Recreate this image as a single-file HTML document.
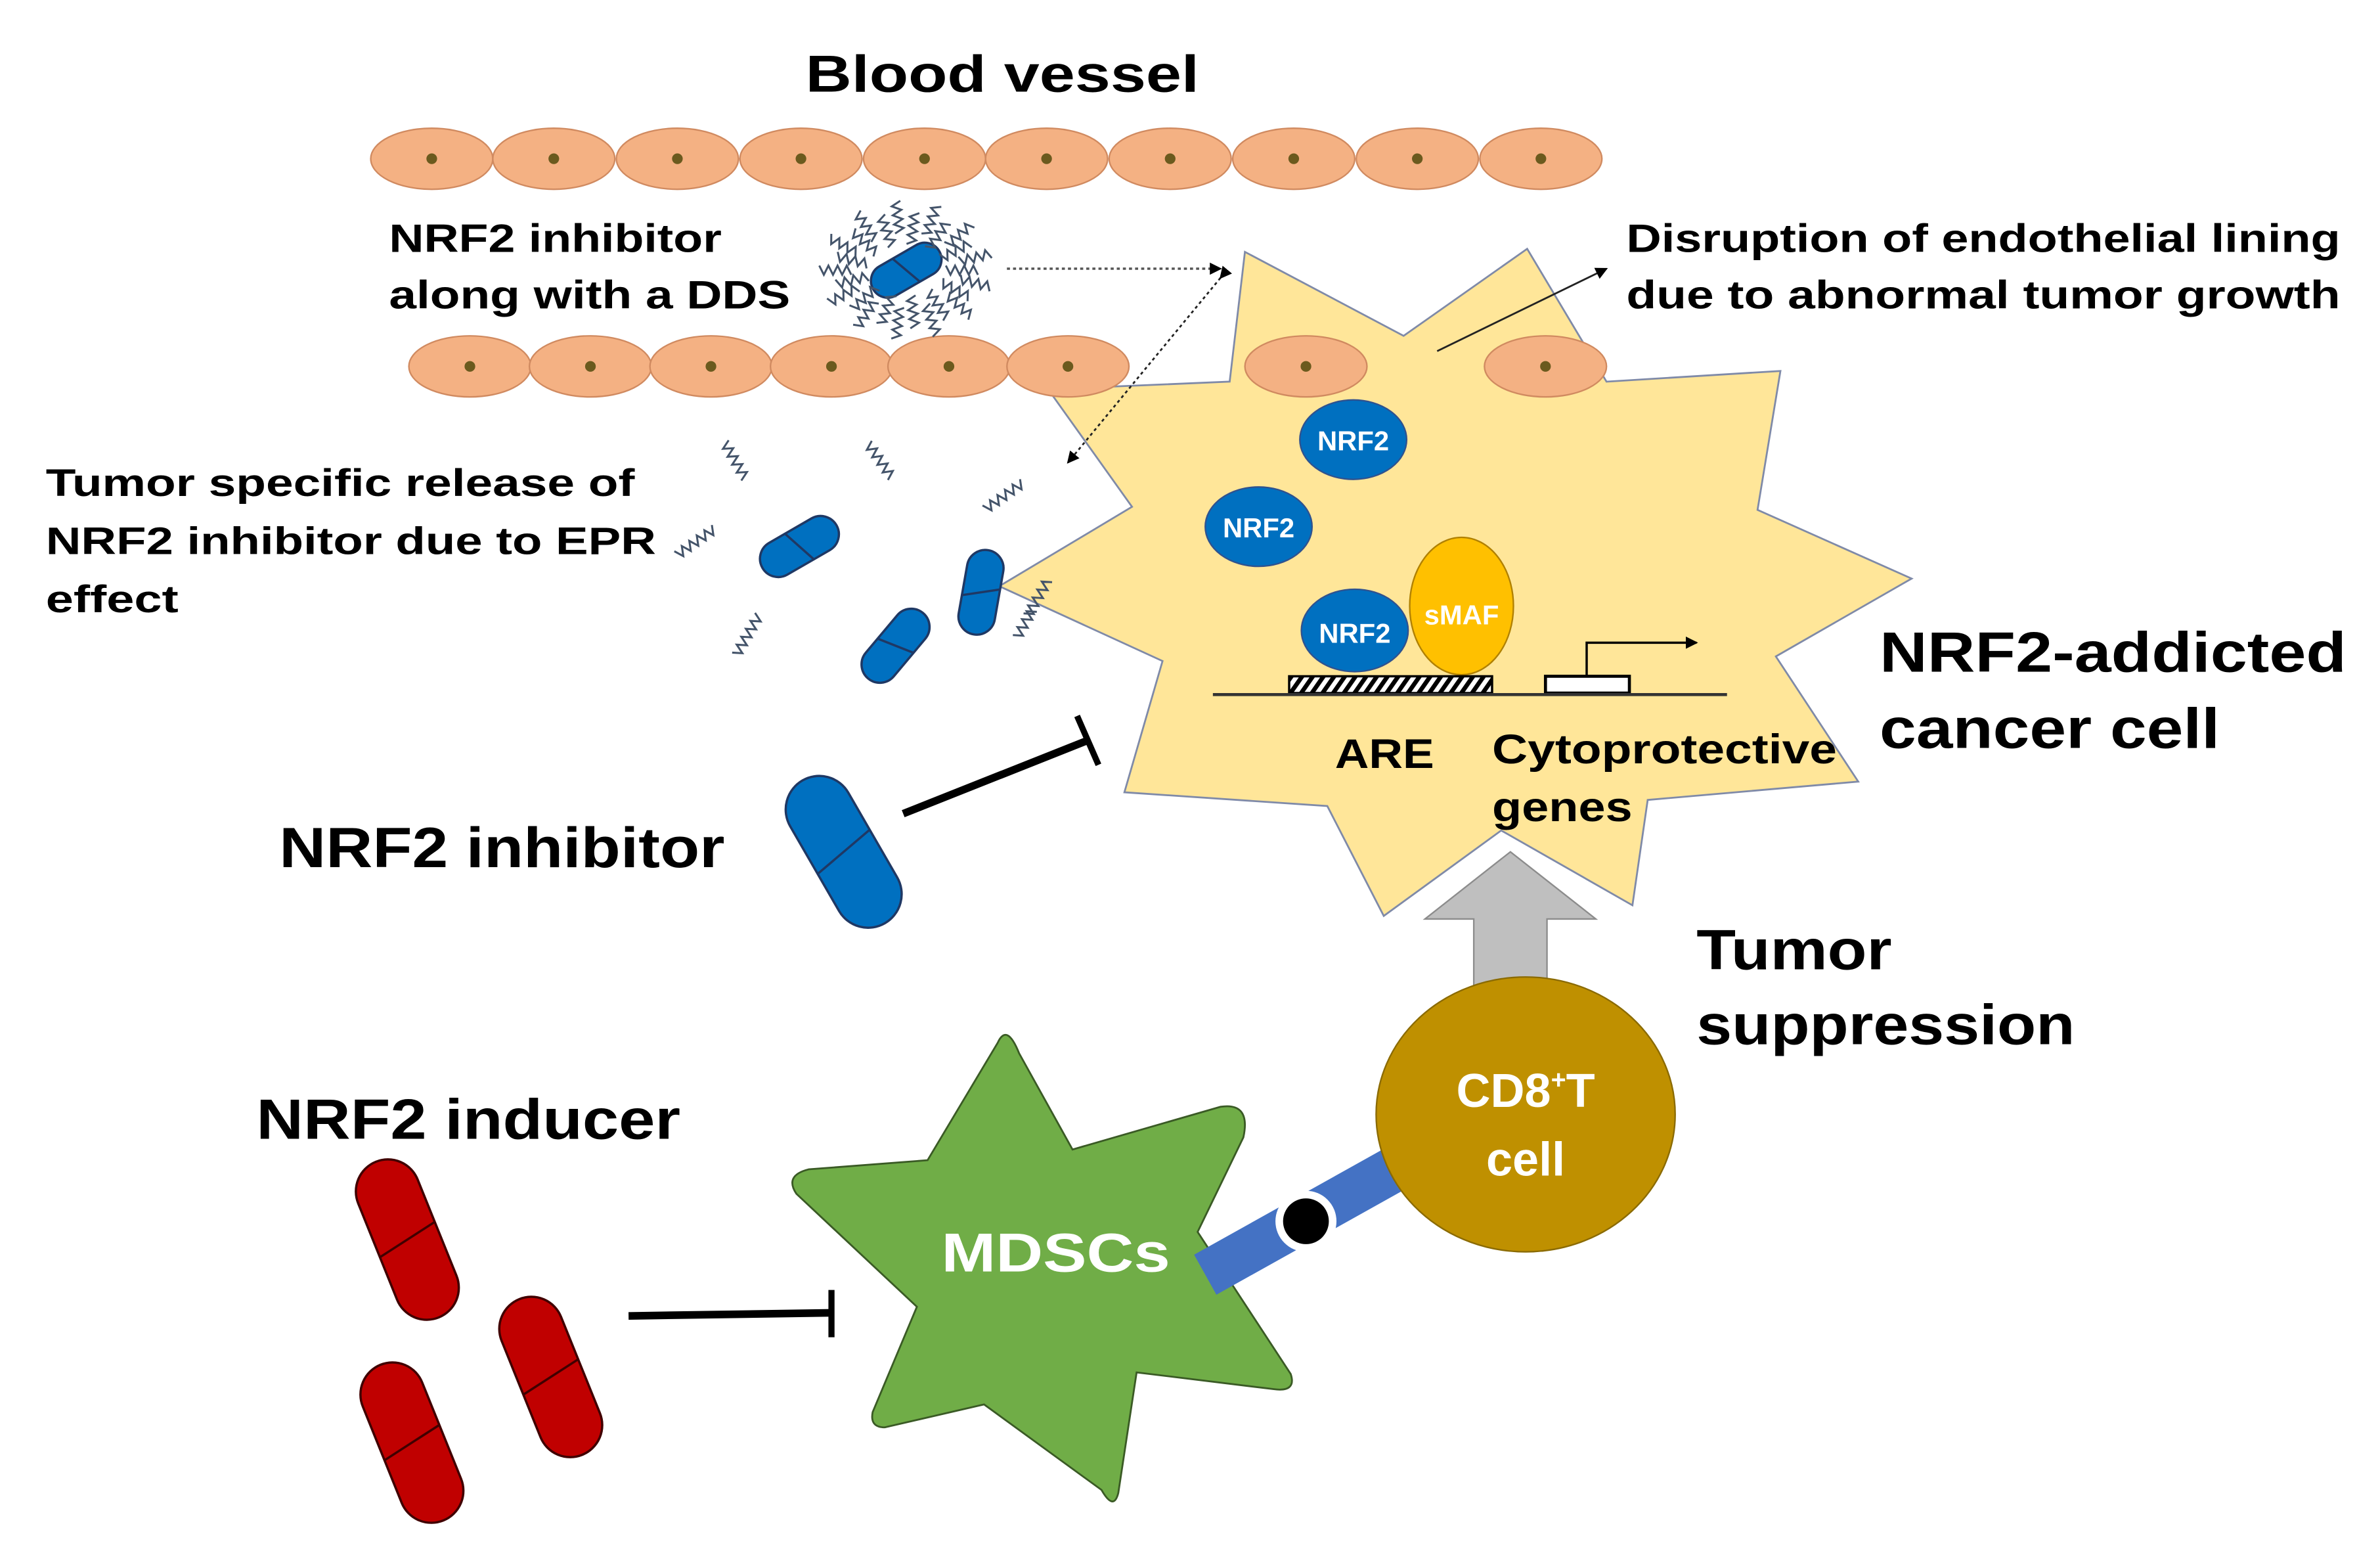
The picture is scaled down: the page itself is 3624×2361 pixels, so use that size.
<!DOCTYPE html>
<html><head><meta charset="utf-8"><style>
html,body{margin:0;padding:0;background:#fff}
svg{display:block}
text{font-family:"Liberation Sans",Arial,sans-serif;font-weight:bold}
</style></head><body>
<svg id="s" xmlns="http://www.w3.org/2000/svg" width="3624" height="2361" viewBox="0 0 1560 1016" preserveAspectRatio="none">
<defs>
<pattern id="hatch" width="7" height="12" patternUnits="userSpaceOnUse" patternTransform="skewX(-35)">
<rect width="7" height="12" fill="#fff"/><rect width="3.5" height="12" fill="#000"/></pattern>
<marker id="ah" markerWidth="8" markerHeight="8" refX="7" refY="4" orient="auto" markerUnits="userSpaceOnUse"><path d="M0,0 L8,4 L0,8z" fill="#000"/></marker>
</defs>
<rect width="1560" height="1016" fill="#fff"/>

<polygon points="816,165 920,220 1001,163 1053,250 1167,243 1152,334 1253,379 1164,430 1218,512 1080,524 1070,593 984,544 907,600 870,528 737,519 762,433 655,384 742,332 687,255 806,250" fill="#ffe699" stroke="#7f8aa8" stroke-width="1.2"/>

<g id="vessel" fill="#f4b183" stroke="#d08a60" stroke-width="1"></g>

<g lengthAdjust="spacingAndGlyphs">
<text x="528" y="60" font-size="34" textLength="258" lengthAdjust="spacingAndGlyphs">Blood vessel</text>
<text x="255" y="165" font-size="26" textLength="218" lengthAdjust="spacingAndGlyphs">NRF2 inhibitor</text>
<text x="255" y="202" font-size="26" textLength="263" lengthAdjust="spacingAndGlyphs">along with a DDS</text>
<text x="1066" y="165" font-size="26" textLength="468" lengthAdjust="spacingAndGlyphs">Disruption of endothelial lining</text>
<text x="1066" y="202" font-size="26" textLength="468" lengthAdjust="spacingAndGlyphs">due to abnormal tumor growth</text>
<text x="30" y="325" font-size="25" textLength="386" lengthAdjust="spacingAndGlyphs">Tumor specific release of</text>
<text x="30" y="363" font-size="25" textLength="400" lengthAdjust="spacingAndGlyphs">NRF2 inhibitor due to EPR</text>
<text x="30" y="401" font-size="25" textLength="87" lengthAdjust="spacingAndGlyphs">effect</text>
<text x="183" y="568" font-size="37" textLength="292" lengthAdjust="spacingAndGlyphs">NRF2 inhibitor</text>
<text x="1232" y="440" font-size="37" textLength="306" lengthAdjust="spacingAndGlyphs">NRF2-addicted</text>
<text x="1232" y="490" font-size="37" textLength="223" lengthAdjust="spacingAndGlyphs">cancer cell</text>
<text x="1112" y="635" font-size="37" textLength="128" lengthAdjust="spacingAndGlyphs">Tumor</text>
<text x="1112" y="684" font-size="37" textLength="248" lengthAdjust="spacingAndGlyphs">suppression</text>
<text x="168" y="746" font-size="37" textLength="278" lengthAdjust="spacingAndGlyphs">NRF2 inducer</text>
<text x="875" y="503" font-size="27" textLength="65" lengthAdjust="spacingAndGlyphs">ARE</text>
<text x="978" y="500" font-size="27" textLength="226" lengthAdjust="spacingAndGlyphs">Cytoprotective</text>
<text x="978" y="538" font-size="27" textLength="92" lengthAdjust="spacingAndGlyphs">genes</text>
</g>

<line x1="660" y1="176" x2="800" y2="176" stroke="#555" stroke-width="1.5" stroke-dasharray="2,2" marker-end="url(#ah)"/>
<line x1="800" y1="182" x2="700" y2="303" stroke="#222" stroke-width="1.2" stroke-dasharray="2,2" marker-end="url(#ah)" marker-start="url(#ah)"/>
<line x1="942" y1="230" x2="1053" y2="176" stroke="#222" stroke-width="1.2" marker-end="url(#ah)"/>

<g stroke="#2f528f" stroke-width="1" fill="#0070c0">
<ellipse cx="887" cy="288" rx="35" ry="26"/>
<ellipse cx="825" cy="345" rx="35" ry="26"/>
<ellipse cx="888" cy="413" rx="35" ry="27"/>
</g>
<ellipse cx="958" cy="397" rx="34" ry="45" fill="#ffc000" stroke="#b08000" stroke-width="1"/>
<g fill="#fff" font-size="18" text-anchor="middle">
<text x="887" y="295">NRF2</text><text x="825" y="352">NRF2</text><text x="888" y="421">NRF2</text><text x="958" y="409">sMAF</text>
</g>
<rect x="845" y="443" width="133" height="11" fill="url(#hatch)" stroke="#000" stroke-width="1.5"/>
<rect x="1013" y="443" width="55" height="11" fill="#fff" stroke="#000" stroke-width="2"/>
<line x1="795" y1="455" x2="1132" y2="455" stroke="#333" stroke-width="2"/>
<polyline points="1040,443 1040,421 1112,421" fill="none" stroke="#000" stroke-width="1.5" marker-end="url(#ah)"/>

<line x1="592" y1="533" x2="713" y2="485" stroke="#000" stroke-width="5"/>
<line x1="706" y1="469" x2="720" y2="501" stroke="#000" stroke-width="4"/>
<line x1="412" y1="862" x2="545" y2="860" stroke="#000" stroke-width="5"/>
<line x1="545" y1="845" x2="545" y2="876" stroke="#000" stroke-width="4"/>

<polygon points="990,558 1046,602 1014,602 1014,680 966,680 966,602 934,602" fill="#bfbfbf" stroke="#8c8c8c" stroke-width="1"/>

<path d="M654,683 Q660,670 668,690 L703,753 L800,725 Q820,722 815,745 L785,807 L846,900 Q850,912 835,910 L745,899 L733,978 Q730,990 722,976 L645,920 L580,935 Q570,935 572,925 L601,856 L522,782 Q514,770 530,766 L608,760 Z" fill="#70ad47" stroke="#3a5a25" stroke-width="1.2"/>
<line x1="790" y1="835" x2="928" y2="758" stroke="#4472c4" stroke-width="30"/>
<circle cx="856" cy="800" r="20" fill="#fff"/>
<circle cx="856" cy="800" r="15" fill="#000"/>
<ellipse cx="1000" cy="730" rx="98" ry="90" fill="#bf9000" stroke="#8a6a00" stroke-width="1"/>
<text x="692" y="833" font-size="36" fill="#fff" text-anchor="middle" textLength="150" lengthAdjust="spacingAndGlyphs">MDSCs</text>
<text x="1000" y="725" font-size="31" fill="#fff" text-anchor="middle">CD8<tspan font-size="17" dy="-12">+</tspan><tspan dy="12">T</tspan></text>
<text x="1000" y="770" font-size="31" fill="#fff" text-anchor="middle">cell</text>

<g id="caps"></g>
<g id="sq" fill="none" stroke="#44546a" stroke-width="1.3"></g>
</svg>
<script>
var NS="http://www.w3.org/2000/svg";
function el(t,a,p){var e=document.createElementNS(NS,t);for(var k in a)e.setAttribute(k,a[k]);p.appendChild(e);return e;}
var v=document.getElementById('vessel');
function cell(x,y){el('ellipse',{cx:x,cy:y,rx:40,ry:20},v);el('circle',{cx:x,cy:y,r:3.5,fill:'#6b5a1e',stroke:'none'},v);}
[283,363,444,525,606,686,767,848,929,1010].forEach(function(x){cell(x,104);});
[308,387,466,545,622,700,856,1013].forEach(function(x){cell(x,240);});
var c=document.getElementById('caps');
function cap(x,y,w,h,ang,col,st){var g=el('g',{transform:'translate('+x+','+y+') rotate('+ang+')'},c);
el('rect',{x:-w/2,y:-h/2,width:w,height:h,rx:w/2,fill:col,stroke:st,'stroke-width':1.5},g);
el('line',{x1:-w/2,y1:4,x2:w/2,y2:-4,stroke:st,'stroke-width':1.5},g);}
cap(594,177,22,50,60,'#0070c0','#1f3864');
cap(524,358,24,56,60,'#0070c0','#1f3864');
cap(587,423,24,56,40,'#0070c0','#1f3864');
cap(643,388,24,56,10,'#0070c0','#1f3864');
cap(553,558,44,108,-30,'#0070c0','#1f3864');
cap(267,812,42,110,-22,'#c00000','#400000');
cap(361,902,42,110,-22,'#c00000','#400000');
cap(270,945,42,110,-22,'#c00000','#400000');
var s=document.getElementById('sq');
function sq(x,y,ang,len){var p='',n=Math.round(len/3),r=ang*Math.PI/180,cx=Math.cos(r),sy=Math.sin(r);
for(var i=0;i<=n;i++){var t=i*3-len/2,o=(i%2?3:-3);var px=x+t*cx-o*sy,py=y+t*sy+o*cx;p+=(i?'L':'M')+px.toFixed(1)+','+py.toFixed(1);}
el('path',{d:p},s);}
for(var i=0;i<26;i++){var a=i*360/26;var r=a*Math.PI/180;var d=i%2?46:36;sq(594+d*Math.cos(r),177+d*0.75*Math.sin(r),a,20);}
sq(482,302,60,28);sq(577,302,55,28);sq(658,325,-35,30);sq(456,355,-35,30);sq(490,416,-60,30);sq(680,392,-60,26);sq(672,408,-60,22);
</script>
</body></html>
